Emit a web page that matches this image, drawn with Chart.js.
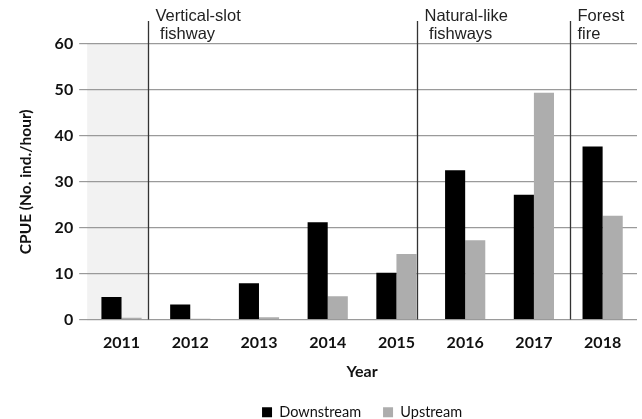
<!DOCTYPE html>
<html>
<head>
<meta charset="utf-8">
<script src="https://cdn.jsdelivr.net/npm/chart.js@4"></script>
<style>
  html, body { margin: 0; padding: 0; background: #fff; }
  #wrap { width: 642px; height: 419px; }
</style>
</head>
<body>
<div id="wrap"><canvas id="myChart"></canvas></div>
<script>
const years = ['2011', '2012', '2013', '2014', '2015', '2016', '2017', '2018']
const downstream = [4.9, 3.3, 7.9, 21.2, 10.2, 32.5, 27.2, 37.7]
const upstream = [0.4, 0.2, 0.5, 5.1, 14.3, 17.3, 49.4, 22.6]

// where the period lines sit, as category index
const periodLines = [0.39, 4.3, 6.53]
const periodLabels = [['Vertical-slot', ' fishway'], ['Natural-like', ' fishways'], ['Forest', 'fire']]

const periods = {
    id: 'periods',
    afterLayout(chart) {
        // legend sits centred under the plot, not the canvas
        const l = chart.legend
        const dx = (chart.chartArea.left + chart.chartArea.right) / 2 - (l.left + l.right) / 2
        l.left += dx
        l.right += dx
    },
    beforeDraw(chart) {
        const { ctx, chartArea, scales } = chart
        const x0 = chartArea.left
        const x1 = scales.x.getPixelForValue(periodLines[0])
        ctx.save()
        ctx.fillStyle = '#f2f2f2'
        ctx.fillRect(x0, chartArea.top, x1 - x0, chartArea.bottom - chartArea.top)
        ctx.restore()
    },
    afterDatasetsDraw(chart) {
        const { ctx, chartArea, scales } = chart
        ctx.save()
        ctx.strokeStyle = '#333'
        ctx.lineWidth = 1.3
        ctx.fillStyle = '#222'
        ctx.font = "16.5px 'Liberation Sans', Arial, sans-serif"
        ctx.textBaseline = 'middle'
        periodLines.forEach((v, i) => {
            const x = Math.round(scales.x.getPixelForValue(v)) + 0.5
            ctx.beginPath()
            ctx.moveTo(x, chartArea.top - 23)
            ctx.lineTo(x, chartArea.bottom)
            ctx.stroke()
            periodLabels[i].forEach((t, j) => {
                ctx.fillText(t, x + 7, chartArea.top - 28 + j * 18)
            })
        })
        ctx.restore()
    }
}

Chart.defaults.font.family = "Lato, 'Open Sans', sans-serif"
Chart.defaults.color = '#111'

const data = {
    labels: years,
    datasets: [{
        label: 'Downstream',
        backgroundColor: '#000000',
        data: downstream,
    }, {
        label: 'Upstream',
        backgroundColor: '#adadad',
        data: upstream,
    }]
}

const config = {
    type: 'bar',
    data: data,
    options: {
        responsive: true,
        maintainAspectRatio: false,
        animation: false,
        datasets: { bar: { categoryPercentage: 0.585, barPercentage: 1.0 } },
        layout: { padding: { top: 44, right: 5, left: 17, bottom: -10.5 } },
        plugins: {
            legend: {
                position: 'bottom',
                labels: { boxWidth: 10, boxHeight: 10, padding: 22, font: { size: 14.5 }, color: '#111' }
            },
            tooltip: { enabled: false }
        },
        scales: {
            x: {
                grid: { display: false },
                border: { display: false },
                ticks: { font: { size: 16, weight: 'bold' }, color: '#111', padding: 6 },
                title: { display: true, text: 'Year', font: { size: 16, weight: 'bold' }, color: '#111', padding: { top: 3, bottom: 2 } }
            },
            y: {
                min: 0,
                max: 60,
                ticks: { stepSize: 10, font: { size: 16, weight: 'bold' }, color: '#111', padding: 6 },
                grid: { color: '#9a9a9a', lineWidth: 1.2, tickLength: 8 },
                border: { display: false },
                title: { display: true, text: 'CPUE (No. ind./hour)', font: { size: 15.5, weight: 'bold' }, color: '#111', padding: { top: 0, bottom: 13 } }
            }
        }
    },
    plugins: [periods]
}

const myChart = new Chart(document.getElementById('myChart'), config)
</script>
</body>
</html>
